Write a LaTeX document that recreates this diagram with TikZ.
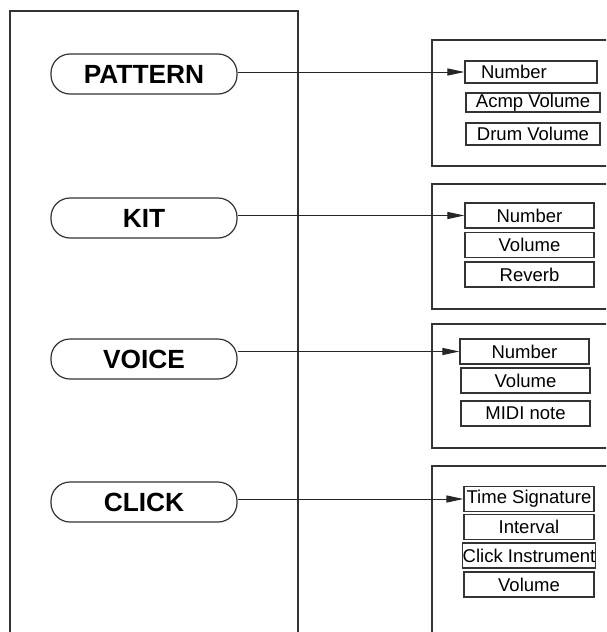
\documentclass[tikz,border=0pt]{standalone}
\usepackage{fontspec}
\setmainfont{Liberation Sans}
\usetikzlibrary{arrows.meta}
\begin{document}
\begin{tikzpicture}[x=1pt, y=-1pt,
  panel/.style={draw=black!80, line width=1.4pt},
  pill/.style={draw=black!80, line width=1.2pt, rounded corners=19pt, minimum width=186pt, minimum height=40pt, inner sep=0pt, font=\fontsize{26.3}{30}\selectfont\bfseries},
  field/.style={draw=black!80, line width=1.1pt, inner sep=0pt, minimum width=130pt, minimum height=25pt, font=\fontsize{18.5}{21}\selectfont},
  arrow/.style={-{Triangle[length=17pt,width=7pt]}, line width=1pt, draw=black!85}
]
\useasboundingbox (0,0) rectangle (606,632);
\fill[white] (0,0) rectangle (606,632);
\clip (0,0) rectangle (606,632);

% panels
\draw[panel] (10,700) |- (298,11) -- (298,700);
\draw[panel] (640,40) -| (432,166) -- (640,166);
\draw[panel] (640,184) -| (432,309) -- (640,309);
\draw[panel] (640,324) -| (432,448) -- (640,448);
\draw[panel] (640,466) -| (432,700);

% menu entries
\node[pill] (pattern) at (144,74) {PATTERN};
\node[pill] (kit) at (144,218) {KIT};
\node[pill] (voice) at (144,359) {VOICE};
\node[pill] (click) at (144,502) {CLICK};

% pattern fields
\node[field, minimum height=22pt, text width=100pt, inner xsep=16pt, align=left] (patnum) at (531,72) {Number};
\node[field, minimum width=134pt, minimum height=19pt] (patacmp) at (533,102.5) {Acmp Volume};
\node[field, minimum width=134pt, minimum height=22pt] (patdrum) at (533,134) {Drum Volume};

% kit fields
\node[field, minimum width=129pt] (kitnum) at (529.5,215.5) {Number};
\node[field, minimum width=129pt] (kitvol) at (529.5,245) {Volume};
\node[field, minimum width=129pt] (kitrev) at (529.5,274.5) {Reverb};

% voice fields
\node[field, minimum width=129pt] (voicenum) at (524.5,351.5) {Number};
\node[field, minimum width=129pt] (voicevol) at (525.5,380.5) {Volume};
\node[field, minimum width=129pt] (voicemidi) at (525.5,413.5) {MIDI note};

% click fields
\node[field] (clicksig) at (529,499) {Time Signature};
\node[field] (clickint) at (529,527) {Interval};
\node[field] (clickins) at (529,555.5) {Click Instrument};
\node[field] (clickvol) at (529,584.5) {Volume};

\draw[arrow] (pattern.east |- patnum.west) -- (patnum.west);
\draw[arrow] (kit.east |- kitnum.west) -- (kitnum.west);
\draw[arrow] (voice.east |- voicenum.west) -- (voicenum.west);
\draw[arrow] (click.east |- clicksig.west) -- (clicksig.west);
\end{tikzpicture}
\end{document}
